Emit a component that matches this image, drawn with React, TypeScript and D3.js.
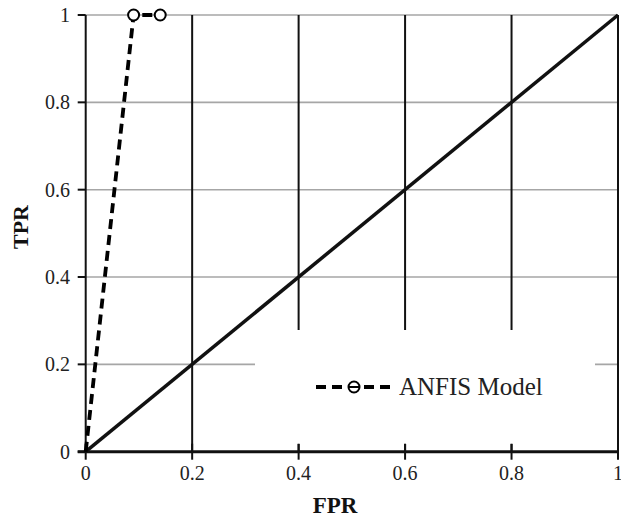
import React from "react";
import * as d3 from "d3";

const anfisFPR = [0, 0.09, 0.14];
const anfisTPR = [0, 1, 1];
const refFPR = [0, 1];
const refTPR = [0, 1];
const tickValues = [0, 0.2, 0.4, 0.6, 0.8, 1];
const tickLabels = ["0", "0.2", "0.4", "0.6", "0.8", "1"];
const seriesName = "ANFIS Model";
const xTitle = "FPR";
const yTitle = "TPR";

const W = 621;
const H = 517;

export default function App() {
  const x = d3.scaleLinear().domain([0, 1]).range([85.7, 618]);
  const y = d3.scaleLinear().domain([0, 1]).range([451.7, 15]);
  const line = d3
    .line<number>()
    .x((_, i) => x(anfisFPR[i]))
    .y((_, i) => y(anfisTPR[i]));
  const refLine = d3
    .line<number>()
    .x((_, i) => x(refFPR[i]))
    .y((_, i) => y(refTPR[i]));
  const fontStyle = { fontFamily: '"Liberation Serif", "Times New Roman", Times, serif' };

  const legend = { x0: 255, x1: 595, y0: 330, y1: 444 };
  const legY = 387;

  return (
    <svg
      width={W}
      height={H}
      style={{ position: "absolute", left: 0, top: 0, background: "#fff" }}
    >
      <rect x={0} y={0} width={W} height={H} fill="#fff" />
      {tickValues.map((t) =>
        t === 0 ? null : (
          <line
            key={"h" + t}
            x1={x(0)}
            x2={x(1)}
            y1={y(t)}
            y2={y(t)}
            stroke="#a6a6a6"
            strokeWidth={1.6}
          />
        )
      )}
      {tickValues.map((t) =>
        t === 0 ? null : (
          <line
            key={"v" + t}
            x1={x(t)}
            x2={x(t)}
            y1={y(0)}
            y2={y(1)}
            stroke="#111"
            strokeWidth={2}
          />
        )
      )}
      <path
        d={refLine(refFPR) || ""}
        fill="none"
        stroke="#111"
        strokeWidth={3.5}
      />
      <rect
        x={legend.x0}
        y={legend.y0}
        width={legend.x1 - legend.x0}
        height={legend.y1 - legend.y0}
        fill="#fff"
      />
      <line x1={x(0)} x2={x(0)} y1={y(0)} y2={y(1)} stroke="#111" strokeWidth={2} />
      {tickValues.map((t, i) => (
        <g key={"yt" + t}>
          <line x1={x(0) - 8} x2={x(0)} y1={y(t)} y2={y(t)} stroke="#111" strokeWidth={2} />
          <text
            x={70}
            y={y(t) + 7}
            textAnchor="end"
            fontSize={20}
            fill="#222"
            style={fontStyle}
          >
            {tickLabels[i]}
          </text>
        </g>
      ))}
      <line x1={x(0) - 8} x2={x(1)} y1={y(0)} y2={y(0)} stroke="#111" strokeWidth={3} />
      {tickValues.map((t, i) => (
        <g key={"xt" + t}>
          <line x1={x(t)} x2={x(t)} y1={y(0) - 8} y2={y(0) + 8} stroke="#111" strokeWidth={2} />
          <text x={x(t)} y={480} textAnchor="middle" fontSize={20} fill="#222" style={fontStyle}>
            {tickLabels[i]}
          </text>
        </g>
      ))}
      <path
        d={line(anfisFPR) || ""}
        fill="none"
        stroke="#000"
        strokeWidth={3.8}
        strokeDasharray="10,6"
      />
      {anfisFPR.slice(1).map((v, i) => (
        <circle
          key={"m" + i}
          cx={x(v)}
          cy={y(anfisTPR[i + 1])}
          r={5.5}
          fill="#fff"
          stroke="#000"
          strokeWidth={2}
        />
      ))}
      <line
        x1={316}
        x2={392}
        y1={legY}
        y2={legY}
        stroke="#000"
        strokeWidth={3.8}
        strokeDasharray="10,6"
      />
      <circle cx={354} cy={legY} r={5.5} fill="#fff" stroke="#000" strokeWidth={2} />
      <line x1={349} x2={359} y1={legY} y2={legY} stroke="#000" strokeWidth={2} />
      <text x={399} y={legY + 8} fontSize={25} fill="#222" style={fontStyle}>
        {seriesName}
      </text>
      <text x={335} y={513} textAnchor="middle" fontSize={23} fontWeight="bold" fill="#111" style={fontStyle}>
        {xTitle}
      </text>
      <text
        transform={`translate(28, ${227}) rotate(-90)`}
        textAnchor="middle"
        fontSize={22}
        fontWeight="bold"
        fill="#111"
        style={fontStyle}
      >
        {yTitle}
      </text>
    </svg>
  );
}
